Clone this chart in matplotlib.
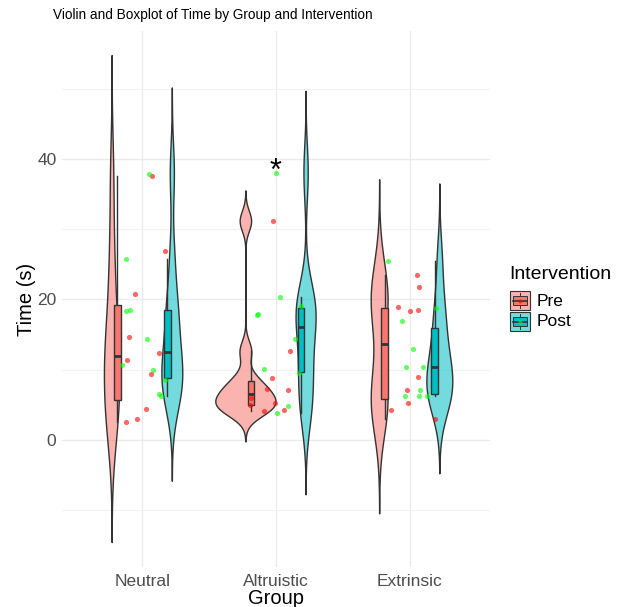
import numpy as np
import matplotlib
matplotlib.use("Agg")
import matplotlib.pyplot as plt
from matplotlib.patches import Rectangle, Polygon

plt.rcParams["font.family"] = ["Liberation Sans", "DejaVu Sans"]

# ---- data ----
groups = ["Neutral", "Altruistic", "Extrinsic"]
interventions = ["Pre", "Post"]

neutral_pre = [37.5, 26.9, 20.7, 14.7, 11.4, 12.4, 9.4, 4.4, 3.0, 2.6]
neutral_post = [37.9, 25.7, 18.3, 18.5, 14.3, 10.6, 9.9, 8.5, 6.6, 6.3]
altruistic_pre = [31.1, 12.6, 8.8, 7.2, 7.1, 5.2, 4.1, 4.2, 6.0, 4.9]
altruistic_post = [38.0, 20.3, 17.8, 17.9, 19.1, 14.3, 10.1, 9.5, 4.8, 3.8]
extrinsic_pre = [23.5, 21.8, 18.9, 18.4, 18.5, 8.9, 7.1, 5.3, 4.3, 3.0]
extrinsic_post = [25.4, 18.8, 16.9, 13.0, 10.4, 10.4, 7.1, 6.3, 6.3, 6.2]

# horizontal jitter of each point (group units)
neutral_pre_jit = [0.072, 0.172, -0.057, -0.097, -0.114, 0.124, 0.062, 0.025, -0.040, -0.119]
neutral_post_jit = [0.052, -0.119, -0.119, -0.090, 0.037, -0.152, 0.080, 0.169, 0.122, 0.142]
altruistic_pre_jit = [-0.022, 0.107, -0.030, -0.065, 0.092, -0.010, -0.090, 0.057, -0.189, -0.194]
altruistic_post_jit = [0.0, 0.027, -0.144, -0.135, 0.187, 0.144, -0.092, 0.172, 0.090, 0.010]
extrinsic_pre_jit = [0.055, 0.070, -0.085, 0.003, 0.065, 0.065, -0.017, -0.012, -0.137, 0.189]
extrinsic_post_jit = [-0.162, 0.194, -0.057, 0.025, -0.027, 0.102, 0.075, -0.032, 0.070, 0.127]

values = {
    ("Neutral", "Pre"): neutral_pre, ("Neutral", "Post"): neutral_post,
    ("Altruistic", "Pre"): altruistic_pre, ("Altruistic", "Post"): altruistic_post,
    ("Extrinsic", "Pre"): extrinsic_pre, ("Extrinsic", "Post"): extrinsic_post,
}
jitters = {
    ("Neutral", "Pre"): neutral_pre_jit, ("Neutral", "Post"): neutral_post_jit,
    ("Altruistic", "Pre"): altruistic_pre_jit, ("Altruistic", "Post"): altruistic_post_jit,
    ("Extrinsic", "Pre"): extrinsic_pre_jit, ("Extrinsic", "Post"): extrinsic_post_jit,
}

star_group = "Altruistic"
star_y = 38.2

fill_cols = {"Pre": "#F8766D", "Post": "#00BFC4"}
point_cols = {"Pre": "#FF0000", "Post": "#00FF00"}
edge = "#333333"


def nrd0(x):
    x = np.asarray(x, float)
    q1, q3 = np.percentile(x, [25, 75])
    lo = min(np.std(x, ddof=1), (q3 - q1) / 1.34)
    return 0.9 * lo * len(x) ** -0.2


def density(x, n=512, cut=3):
    x = np.asarray(x, float)
    bw = nrd0(x)
    grid = np.linspace(x.min() - cut * bw, x.max() + cut * bw, n)
    d = np.exp(-0.5 * ((grid[:, None] - x[None, :]) / bw) ** 2).sum(1)
    d /= len(x) * bw * np.sqrt(2 * np.pi)
    return grid, d


dens = {k: density(v) for k, v in values.items()}
dmax = max(d.max() for _, d in dens.values())

fig = plt.figure(figsize=(6.23, 6.07), dpi=100)
ax = fig.add_axes([0.0995, 0.0659, 0.687, 0.883])

violin_dodge = 0.225
box_dodge = 0.1875
box_half = 0.025

# violins
for gi, g in enumerate(groups, start=1):
    for ii, iv in enumerate(interventions):
        pos = gi + (violin_dodge if ii else -violin_dodge)
        grid, d = dens[(g, iv)]
        hw = 0.225 * d / dmax
        xs = np.concatenate([pos - hw, (pos + hw)[::-1]])
        ys = np.concatenate([grid, grid[::-1]])
        ax.add_patch(Polygon(np.column_stack([xs, ys]), closed=True,
                             facecolor=fill_cols[iv], alpha=0.55, lw=0, zorder=2))
        ax.add_patch(Polygon(np.column_stack([xs, ys]), closed=True,
                             facecolor="none", edgecolor=edge, lw=1.0, zorder=2.1))

# boxplots
for gi, g in enumerate(groups, start=1):
    for ii, iv in enumerate(interventions):
        pos = gi + (box_dodge if ii else -box_dodge)
        v = np.asarray(values[(g, iv)], float)
        q1, med, q3 = np.percentile(v, [25, 50, 75])
        iqr = q3 - q1
        up = v[v <= q3 + 1.5 * iqr].max()
        dn = v[v >= q1 - 1.5 * iqr].min()
        ax.plot([pos, pos], [q3, up], color=edge, lw=1.0, zorder=3)
        ax.plot([pos, pos], [q1, dn], color=edge, lw=1.0, zorder=3)
        ax.add_patch(Rectangle((pos - box_half, q1), 2 * box_half, q3 - q1,
                               facecolor=fill_cols[iv], edgecolor=edge, lw=1.0, zorder=3.1))
        ax.plot([pos - box_half, pos + box_half], [med, med], color=edge, lw=2.0,
                zorder=3.2, solid_capstyle="butt")

# jittered points
for gi, g in enumerate(groups, start=1):
    for iv in interventions:
        xs = gi + np.asarray(jitters[(g, iv)])
        ax.scatter(xs, values[(g, iv)], s=14, color=point_cols[iv], alpha=0.6,
                   linewidths=0, zorder=4)

ax.text(groups.index(star_group) + 1, star_y, "*", fontsize=22, ha="center",
        va="center", color="black", zorder=5)

# axes styling (ggplot theme_minimal look)
lo = min(g.min() for g, _ in dens.values())
hi = max(g.max() for g, _ in dens.values())
pad = 0.05 * (hi - lo)
ax.set_ylim(lo - pad, hi + pad)
ax.set_xlim(0.4, 3.6)
ax.set_xticks(range(1, len(groups) + 1))
ax.set_xticklabels(groups)
ax.set_yticks([0, 20, 40])
ax.set_yticks([-10, 10, 30, 50], minor=True)
ax.grid(True, which="major", color="#EBEBEB", lw=1.0)
ax.grid(True, which="minor", axis="y", color="#F2F2F2", lw=0.8)
ax.set_axisbelow(True)
for s in ax.spines.values():
    s.set_visible(False)
ax.tick_params(which="both", length=0, labelsize=12.5, labelcolor="#4D4D4D")
ax.tick_params(axis="y", pad=4)
ax.tick_params(axis="x", pad=5)
ax.set_xlabel("Group", fontsize=14.5, labelpad=0)
ax.set_ylabel("Time (s)", fontsize=14.5, labelpad=1)
fig.text(0.085, 0.975, "Violin and Boxplot of Time by Group and Intervention",
         fontsize=9.8, ha="left", va="center")

# legend drawn by hand to mimic ggplot keys
W, H = 623, 607
fig.text(509 / W, 1 - 274 / H, "Intervention", fontsize=14, ha="left", va="center")
for k, iv in enumerate(interventions):
    x0, y0 = 510, 291 + k * 21
    kw, kh = 20, 19
    fig.patches.append(Rectangle((x0 / W, 1 - (y0 + kh) / H), kw / W, kh / H,
                                 transform=fig.transFigure, facecolor=fill_cols[iv],
                                 alpha=0.55, edgecolor="none"))
    fig.patches.append(Rectangle((x0 / W, 1 - (y0 + kh) / H), kw / W, kh / H,
                                 transform=fig.transFigure, facecolor="none",
                                 edgecolor=edge, lw=0.8))
    fig.patches.append(Rectangle(((x0 + 3) / W, 1 - (y0 + 14) / H), (kw - 6) / W, 9 / H,
                                 transform=fig.transFigure, facecolor=fill_cols[iv],
                                 edgecolor=edge, lw=0.7))
    fig.lines.append(plt.Line2D([(x0 + 3) / W, (x0 + kw - 3) / W],
                                [1 - (y0 + 9.5) / H] * 2, transform=fig.transFigure,
                                color=edge, lw=1.2))
    fig.lines.append(plt.Line2D([(x0 + kw / 2) / W] * 2, [1 - (y0 + 2) / H, 1 - (y0 + 5) / H],
                                transform=fig.transFigure, color=edge, lw=0.7))
    fig.lines.append(plt.Line2D([(x0 + kw / 2) / W] * 2, [1 - (y0 + 14) / H, 1 - (y0 + 17) / H],
                                transform=fig.transFigure, color=edge, lw=0.7))
    fig.lines.append(plt.Line2D([(x0 + kw / 2) / W], [1 - (y0 + 9.5) / H], marker="o",
                                ms=3, color=point_cols[iv], alpha=0.6, mew=0,
                                transform=fig.transFigure))
    fig.text(537 / W, 1 - (y0 + 10) / H, iv, fontsize=12.5, ha="left", va="center")

fig.savefig("out.png", dpi=100, facecolor="white")
